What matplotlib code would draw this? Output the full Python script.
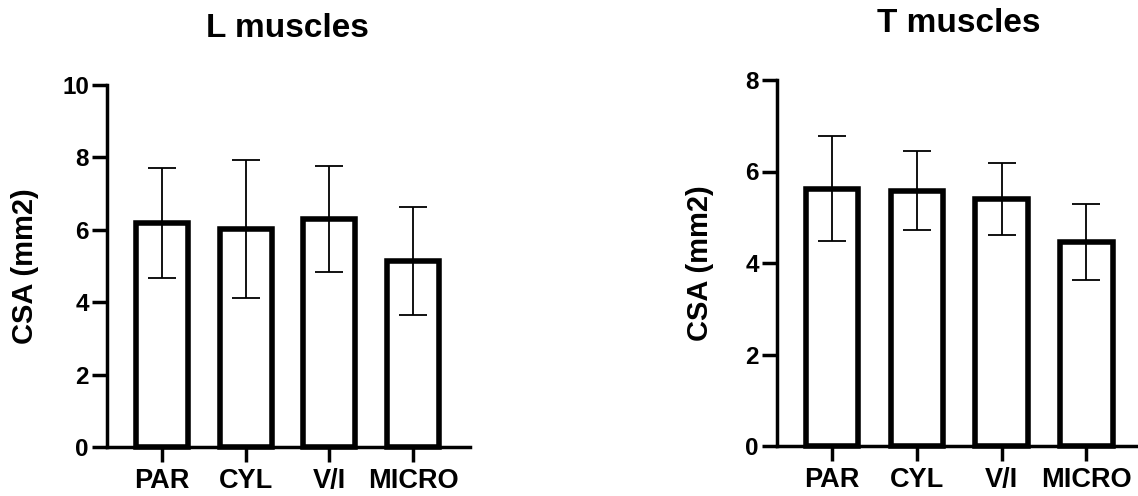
import matplotlib
matplotlib.use("Agg")
import matplotlib.pyplot as plt
import numpy as np

plt.rcParams['font.family'] = ['Liberation Sans', 'DejaVu Sans']
plt.rcParams['font.weight'] = 'bold'

categories = ["PAR", "CYL", "V/I", "MICRO"]
l_means = [6.2, 6.02, 6.3, 5.14]
l_sd = [1.52, 1.9, 1.47, 1.5]
t_means = [5.62, 5.58, 5.4, 4.45]
t_sd = [1.15, 0.86, 0.78, 0.83]

W, H = 1138, 496
fig = plt.figure(figsize=(W / 100, H / 100), dpi=100)

def make_axes(rect, means, sds, ymax, xlim, ylabel_x):
    ax = fig.add_axes(rect)
    x = np.arange(len(categories))
    ax.bar(x, means, width=0.62, color='white', edgecolor='black', linewidth=4.0,
           zorder=2, clip_on=False)
    ax.errorbar(x, means, yerr=sds, fmt='none', ecolor='black', elinewidth=1.3,
                capsize=10, capthick=1.3, zorder=3, clip_on=False)
    ax.set_xlim(*xlim)
    ax.set_ylim(0, ymax)
    ax.set_yticks(np.arange(0, ymax + 1, 2))
    ax.set_xticks(x)
    ax.set_xticklabels(categories, fontsize=19.5, fontweight='bold')
    for lab in ax.get_yticklabels():
        lab.set_fontsize(17.5)
        lab.set_fontweight('bold')
    for s in ['top', 'right']:
        ax.spines[s].set_visible(False)
    for s in ['left', 'bottom']:
        ax.spines[s].set_linewidth(2.5)
    ax.tick_params(axis='both', width=2.5, length=11)
    ax.tick_params(axis='x', pad=4)
    ax.tick_params(axis='y', pad=2)
    ax.set_ylabel("CSA (mm2)", fontsize=21, fontweight='bold', va='center')
    ax.yaxis.set_label_coords(ylabel_x, 0.5)
    return ax

axL = make_axes([107 / W, 1 - 447 / H, 363 / W, 362 / H], l_means, l_sd, 10,
                (-0.657, 3.68), (25 - 107) / 363)
axR = make_axes([777 / W, 1 - 446 / H, 361 / W, 366 / H], t_means, t_sd, 8,
                (-0.65, 3.61), (700 - 777) / 361)

fig.text(287 / W, 1 - 37 / H, "L muscles", ha='center', va='baseline',
         fontsize=24, fontweight='bold')
fig.text(959 / W, 1 - 32 / H, "T muscles", ha='center', va='baseline',
         fontsize=24, fontweight='bold')

fig.savefig("out.png", dpi=100, facecolor='white')
